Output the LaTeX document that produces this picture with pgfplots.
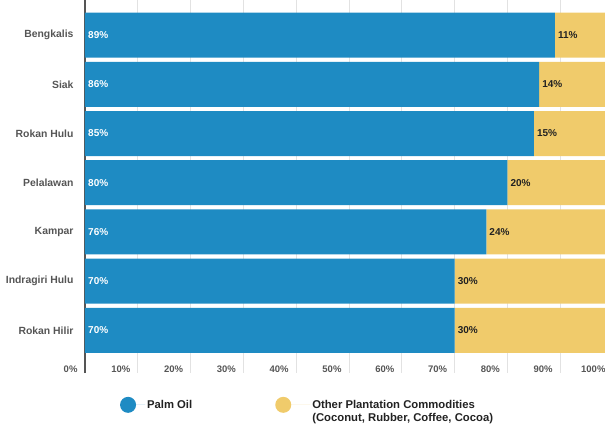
\documentclass[border=0pt]{standalone}
\usepackage{pgfplots}
\usepackage{pgfplotstable}
\pgfplotsset{compat=1.18}
\usepackage{fontspec}
\setmainfont{Liberation Sans}
\definecolor{palm}{HTML}{1E8BC3}
\definecolor{other}{HTML}{F0CB6B}
\definecolor{gridc}{HTML}{E2E2E2}
\definecolor{labc}{HTML}{555555}
\definecolor{darkc}{HTML}{222222}

\pgfplotstableread{
idx palm other
0 89 11
1 86 14
2 85 15
3 80 20
4 76 24
5 70 30
6 70 30
}\datatable

\begin{document}
\begin{tikzpicture}
\begin{axis}[
  name=main,
  /pgf/number format/assume math mode=true,
  scale only axis, width=528pt, height=347pt,
  xmin=0, xmax=100, ymin=-0.55, ymax=6.5, y dir=reverse,
  xbar stacked, bar width=45pt,
  axis line style={draw=none},
  xtick={10,20,...,100},
  extra x ticks={0},
  extra x tick style={major grid style={draw=labc, line width=1.3pt},
    every major tick/.append style={draw=labc, line width=1.3pt},
    every x tick/.append style={draw=labc, line width=1.3pt},
    xtick style={draw=labc, line width=1.3pt}},
  xmajorgrids,
  major grid style={gridc, line width=0.8pt},
  tick align=outside,
  major tick length=18pt,
  xtick style={gridc, line width=0.8pt},
  xticklabel={\pgfmathprintnumber{\tick}\%},
  xticklabel style={font=\bfseries\fontsize{9.5}{10}\selectfont, text=labc, anchor=east, xshift=-4pt, yshift=4pt},
  ytick={0,...,6},
  yticklabels={Bengkalis,Siak,Rokan Hulu,Pelalawan,Kampar,Indragiri Hulu,Rokan Hilir},
  ytick style={draw=none},
  yticklabel style={font=\bfseries\fontsize{10.4}{12}\selectfont, text=labc, xshift=10pt},
  legend columns=2,
  legend style={at={(axis description cs:0.066,-0.12)}, anchor=north west, draw=none, fill=none,
    font=\bfseries\fontsize{11.3}{13}\selectfont, text=darkc, inner sep=0pt,
    /tikz/every even column/.append style={column sep=81pt}},
  legend cell align=left,
]
\addplot[fill=palm, draw=none,
  legend image code/.code={\fill[palm] (8pt,0pt) circle (8pt); \path (0pt,0pt) -- (25pt,0pt);}]
  table[x=palm, y=idx] {\datatable};
\addlegendentry{Palm Oil}
\addplot[fill=other, draw=none,
  legend image code/.code={\fill[other] (8pt,0pt) circle (8pt); \path (0pt,0pt) -- (35pt,0pt);}]
  table[x=other, y=idx] {\datatable};
\addlegendentry{\begin{tabular}[t]{@{}l@{}}Other Plantation Commodities\\(Coconut, Rubber, Coffee, Cocoa)\end{tabular}}
\end{axis}
\begin{axis}[
  /pgf/number format/assume math mode=true,
  scale only axis, width=528pt, height=347pt,
  xmin=0, xmax=100, ymin=-0.55, ymax=6.5, y dir=reverse,
  hide axis, clip=false,
]
\addplot[draw=none, mark=none, nodes near coords={\pgfmathprintnumber{\pgfplotspointmeta}\%},
  point meta=explicit,
  every node near coord/.style={anchor=west, inner sep=0pt, xshift=3pt, text=white, font=\bfseries\fontsize{10}{10}\selectfont}]
  table[x expr=0, y=idx, meta=palm] {\datatable};
\addplot[draw=none, mark=none, nodes near coords={\pgfmathprintnumber{\pgfplotspointmeta}\%},
  point meta=explicit,
  every node near coord/.style={anchor=west, inner sep=0pt, xshift=3pt, text=darkc, font=\bfseries\fontsize{10}{10}\selectfont}]
  table[x=palm, y=idx, meta=other] {\datatable};
\end{axis}
\pgfresetboundingbox
\path ([xshift=-85pt, yshift=-68pt]main.south west) rectangle ([xshift=-8pt, yshift=8pt]main.north east);
\end{tikzpicture}
\end{document}
